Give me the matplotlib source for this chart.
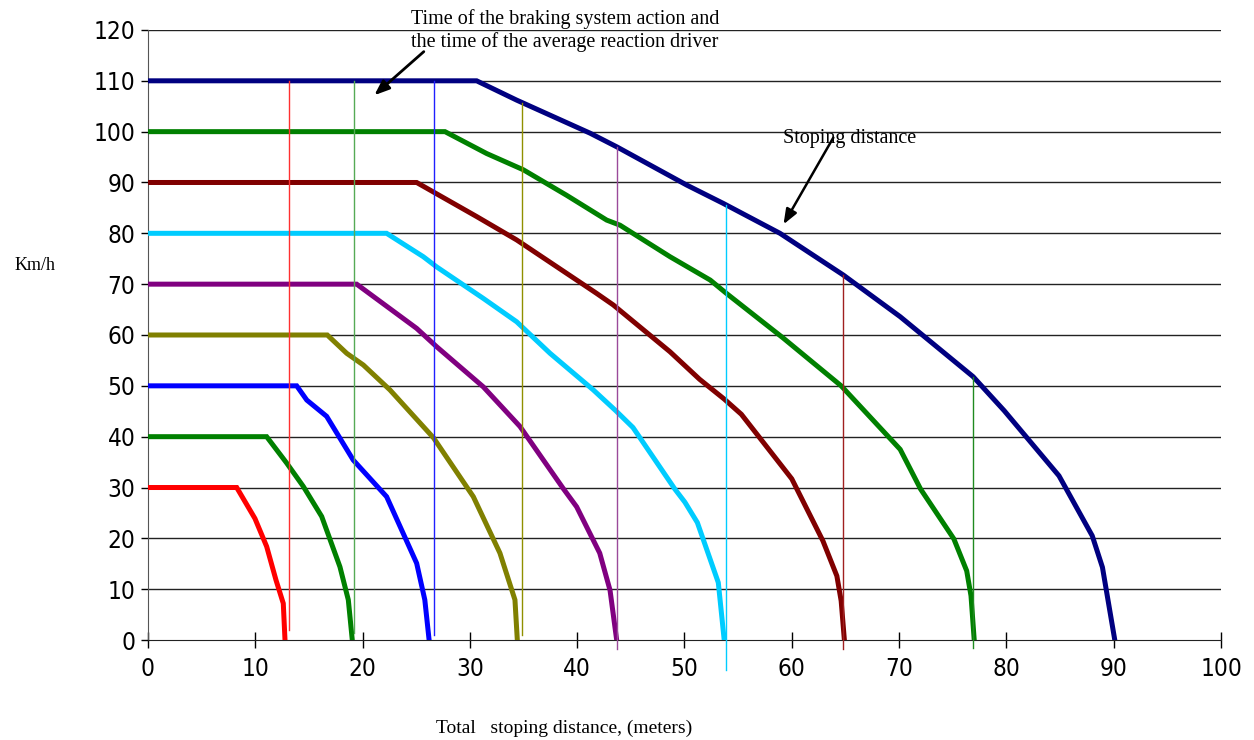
import numpy as np
import matplotlib
matplotlib.use("Agg")
import matplotlib.pyplot as plt

# braking curves: speed (km/h) vs distance (m)
x30 = [0, 5, 8.27, 9.97, 11.06, 11.93, 12.61, 12.77]
y30 = [30, 30, 30, 23.9, 18.4, 11.8, 7.2, 0]
x40 = [0, 5, 11.06, 12.93, 14.48, 16.19, 17.89, 18.67, 19.04]
y40 = [40, 40, 40, 34.8, 30.2, 24.3, 14.4, 7.9, 0]
x50 = [0, 5, 13.86, 14.8, 16.65, 19.13, 22.24, 25.04, 25.8, 26.2]
y50 = [50, 50, 50, 47.2, 44.0, 35.4, 28.2, 15.1, 7.9, 0]
x60 = [0, 5, 16.71, 18.52, 20.07, 22.55, 26.6, 30.32, 32.8, 34.2, 34.42]
y60 = [60, 60, 60, 56.4, 54.1, 49.2, 39.8, 28.2, 17.1, 7.9, 0]
x70 = [0, 5, 19.45, 25.04, 26.9, 31.25, 34.67, 38.7, 39.95, 42.1, 43.06, 43.68]
y70 = [70, 70, 70, 61.3, 57.7, 49.8, 42.0, 29.8, 26.2, 17.1, 9.8, 0]
x80 = [0, 5, 22.24, 25.66, 26.9, 31.25, 34.36, 37.47, 41.5, 43.6, 45.2, 49.1,
       50.04, 51.2, 53.15, 53.7]
y80 = [80, 80, 80, 75.4, 73.4, 67.2, 62.6, 56.4, 49.2, 45.1, 41.8, 29.7,
       27.1, 23.1, 11.3, 0]
x90 = [0, 5, 25.04, 30.63, 34.36, 41.8, 43.37, 48.65, 51.4, 53.7, 55.3, 60.0,
       62.9, 64.2, 64.6, 64.9]
y90 = [90, 90, 90, 83.3, 78.7, 68.2, 65.9, 56.7, 51.3, 47.4, 44.4, 31.7,
       19.5, 12.6, 7.7, 0]
x100 = [0, 5, 27.68, 31.56, 34.98, 39.0, 42.75, 43.99, 48.65, 52.4, 53.9, 59.2,
        64.6, 70.1, 72.0, 75.1, 76.3, 76.7, 77.0]
y100 = [100, 100, 100, 95.7, 92.5, 87.5, 82.6, 81.6, 75.4, 70.8, 68.2, 59.4,
        50.0, 37.5, 29.7, 19.9, 13.6, 8.7, 0]
x110 = [0, 5, 30.63, 34.36, 41.2, 43.7, 50.2, 53.6, 58.9, 64.8, 70.1, 76.9,
        79.8, 84.9, 88.0, 88.95, 90.1]
y110 = [110, 110, 110, 106.2, 99.7, 97.0, 89.5, 85.9, 80.0, 71.8, 63.6, 51.8,
        45.1, 32.3, 20.5, 14.3, 0]

curves = [(x30, y30, "#FF0000"), (x40, y40, "#008000"), (x50, y50, "#0000FF"),
          (x60, y60, "#808000"), (x70, y70, "#800080"), (x80, y80, "#00CCFF"),
          (x90, y90, "#800000"), (x100, y100, "#008000"), (x110, y110, "#000080")]

# vertical marker lines (end of reaction + braking-system time)
vx = [13.1, 19.2, 26.7, 34.9, 43.7, 53.85, 64.8, 76.9]
vbottom = [2, 1.3, 1, 1, -1.8, -5.9, -1.8, -1.5]
vcolors = ["#FF3030", "#55AA55", "#2020FF", "#909000", "#9A4A9A", "#00CCFF",
           "#A02020", "#208A20"]

fig = plt.figure(figsize=(12.54, 7.40), dpi=100)
ax = fig.add_axes([0.118, 0.1351, 0.8557, 0.8244])

for yv in range(10, 130, 10):
    ax.axhline(yv, color="#222222", lw=1.0, zorder=1)

for xs, ys, c in curves:
    ax.plot(xs, ys, color=c, lw=3.6, solid_joinstyle="miter", zorder=3)

for xv, yb, c in zip(vx, vbottom, vcolors):
    top = np.interp(xv, x110, y110)
    ax.plot([xv, xv], [yb, top], color=c, lw=1.0, zorder=4, clip_on=False)

ax.set_xlim(0, 100)
ax.set_ylim(0, 120)
ax.set_xticks(range(0, 101, 10))
ax.set_yticks(range(0, 121, 10))
for s in ["top", "right"]:
    ax.spines[s].set_visible(False)
ax.spines["left"].set_color("#555555")
ax.spines["bottom"].set_color("#222222")

ax.tick_params(axis="x", direction="inout", length=11, width=1, pad=7,
               labelsize=17.5)
ax.tick_params(axis="y", direction="out", length=5, width=1, pad=4,
               labelsize=17.5)
for lab in ax.get_xticklabels() + ax.get_yticklabels():
    lab.set_family("DejaVu Sans")
    lab.set_fontstretch("condensed")

serif = ["Liberation Serif", "DejaVu Serif"]
fig.text(35 / 1254, 1 - 266 / 740, "Km/h", family=serif, fontsize=13,
         ha="center", va="center")
fig.text(564 / 1254, 1 - 728 / 740, "Total   stoping distance, (meters)",
         family=serif, fontsize=14, ha="center", va="center")

ax.annotate("", xy=(20.9, 106.8), xytext=(25.9, 116.1),
            arrowprops=dict(arrowstyle="-|>,head_length=0.9,head_width=0.35",
                            color="black", lw=2), annotation_clip=False)
ax.text(24.5, 119.8, "Time of the braking system action and\n"
        "the time of the average reaction driver", family=serif,
        fontsize=14.5, ha="left", va="center", linespacing=1.2)

ax.annotate("", xy=(59.1, 81.3), xytext=(64.0, 99.3),
            arrowprops=dict(arrowstyle="-|>,head_length=0.9,head_width=0.35",
                            color="black", lw=1.8))
ax.text(59.2, 98.7, "Stoping distance", family=serif, fontsize=14.5,
        ha="left", va="center")

fig.savefig("out.png", dpi=100)
